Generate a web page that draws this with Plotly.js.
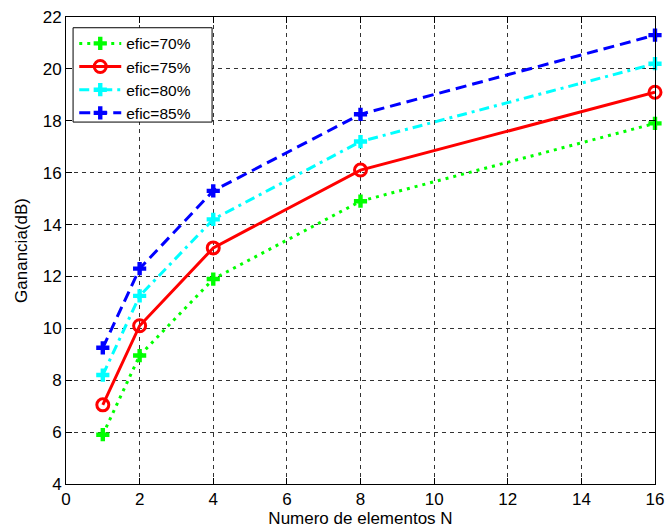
<!DOCTYPE html>
<html><head><meta charset="utf-8">
<script src="https://cdn.plot.ly/plotly-3.0.1.min.js"></script>
<style>body{margin:0;background:#fff}#c{width:666px;height:531px}</style>
</head><body><div id="c"></div>
<script>
const N = [1, 2, 4, 8, 16];
const efic70 = [5.9, 8.95, 11.9, 14.9, 17.9];
const efic75 = [7.05, 10.1, 13.1, 16.1, 19.1];
const efic80 = [8.2, 11.25, 14.2, 17.2, 20.2];
const efic85 = [9.25, 12.3, 15.3, 18.25, 21.3];
const names = ['efic=70%', 'efic=75%', 'efic=80%', 'efic=85%'];
const xTicks = [0, 2, 4, 6, 8, 10, 12, 14, 16];
const yTicks = [4, 6, 8, 10, 12, 14, 16, 18, 20, 22];

const FONT = 'Liberation Sans, Arial, sans-serif';

const traces = [
  {x: N, y: efic70, name: names[0], mode: 'lines+markers', cliponaxis: false,
   line: {color: '#00ff00', width: 3, dash: '3px,5px'},
   marker: {symbol: 'cross', size: 11, color: '#00ff00'}},
  {x: N, y: efic75, name: names[1], mode: 'lines+markers', cliponaxis: false,
   line: {color: '#ff0000', width: 3, dash: 'solid'},
   marker: {symbol: 'circle-open', size: 12, color: '#ff0000', line: {width: 3, color: '#ff0000'}}},
  {x: N, y: efic80, name: names[2], mode: 'lines+markers', cliponaxis: false,
   line: {color: '#00ffff', width: 3, dash: '10px,5px,3px,5px'},
   marker: {symbol: 'cross', size: 11, color: '#00ffff'}},
  {x: N, y: efic85, name: names[3], mode: 'lines+markers', cliponaxis: false,
   line: {color: '#0000ff', width: 3, dash: '11px,6px'},
   marker: {symbol: 'cross', size: 11, color: '#0000ff'}}
];

const axBase = {
  showline: true, mirror: 'ticks', linecolor: '#000', linewidth: 1,
  ticks: 'inside', ticklen: 6, tickcolor: '#000',
  showgrid: true, gridcolor: '#333', griddash: '4px,4px', gridwidth: 1,
  zeroline: false, automargin: false,
  tickfont: {family: FONT, size: 17, color: '#000'}
};

const layout = {
  width: 666, height: 531,
  margin: {l: 66, r: 11, t: 17, b: 47},
  paper_bgcolor: '#fff', plot_bgcolor: '#fff',
  showlegend: true,
  legend: {x: 0.014, y: 0.979, xanchor: 'left', yanchor: 'top',
    borderwidth: 0, bgcolor: 'rgba(0,0,0,0)',
    font: {family: FONT, size: 15.5, color: '#000'},
    tracegroupgap: 0, itemwidth: 42},
  shapes: [{type: 'rect', xref: 'paper', yref: 'paper', layer: 'above',
    x0: 0.012, x1: 0.248, y0: 0.775, y1: 0.977,
    fillcolor: '#fff', line: {color: '#000', width: 1}}],
  xaxis: Object.assign({}, axBase, {range: [0, 16], tickvals: xTicks,
    title: {text: 'Numero de elementos N', standoff: 2,
      font: {family: FONT, size: 17, color: '#000'}}}),
  yaxis: Object.assign({}, axBase, {range: [4, 22], tickvals: yTicks,
    title: {text: 'Ganancia(dB)', standoff: 10,
      font: {family: FONT, size: 17, color: '#000'}}})
};

Plotly.newPlot('c', traces, layout, {displayModeBar: false, staticPlot: true});
</script></body></html>
